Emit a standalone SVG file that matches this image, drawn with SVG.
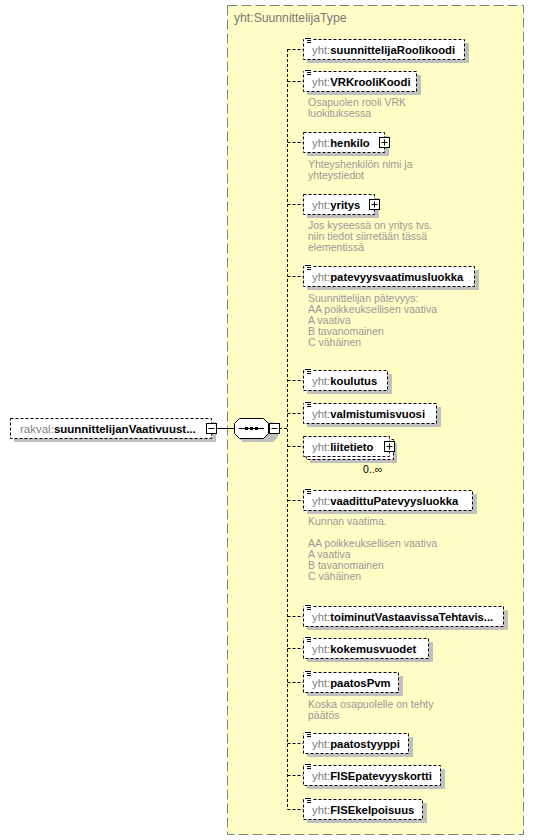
<svg xmlns="http://www.w3.org/2000/svg" width="533" height="840" viewBox="0 0 533 840">
<defs>
<style>
text{font-family:"Liberation Sans",Arial,sans-serif;font-size:11.3px}
.bg{fill:#ffffff}
.tbox{fill:#FFFDC6;stroke:#808080;stroke-width:1;stroke-dasharray:10,4}
.ttl{fill:#777777;font-size:12.2px}
.box{fill:#ffffff;stroke:#000000;stroke-width:1;stroke-dasharray:3,2}
.sh{fill:#c0c0c0}
.pfx{fill:#808080}
.nm{fill:#000000;font-weight:bold}
.desc{fill:#999999;font-size:10.5px}
.con{fill:none;stroke:#000000;stroke-width:1;stroke-dasharray:3,2}
.solid{fill:none;stroke:#000000;stroke-width:1}
.btn{fill:#ffffff;stroke:#000000;stroke-width:1}
.ic{stroke:#000000;stroke-width:1;fill:none}
.occ{fill:#000000;font-size:10.5px}
</style>
</defs>
<rect class="bg" x="0" y="0" width="533" height="840"/>
<g id="type-box">
<rect class="tbox" x="227.5" y="5.5" width="296" height="829"/>
<text class="ttl" x="234" y="22">yht:SuunnittelijaType</text>
</g>
<g id="connectors">
<line class="solid" x1="216" y1="428.5" x2="234" y2="428.5"/>
<line class="con" x1="279" y1="428.5" x2="287.5" y2="428.5"/>
<line class="con" x1="287.5" y1="49" x2="287.5" y2="809.5"/>
<line class="con" x1="287.5" y1="49.5" x2="303" y2="49.5"/>
<line class="con" x1="287.5" y1="81.5" x2="303" y2="81.5"/>
<line class="con" x1="287.5" y1="142.5" x2="303" y2="142.5"/>
<line class="con" x1="287.5" y1="204.5" x2="303" y2="204.5"/>
<line class="con" x1="287.5" y1="276.5" x2="303" y2="276.5"/>
<line class="con" x1="287.5" y1="380.5" x2="303" y2="380.5"/>
<line class="con" x1="287.5" y1="413.5" x2="303" y2="413.5"/>
<line class="con" x1="287.5" y1="446.5" x2="303" y2="446.5"/>
<line class="con" x1="287.5" y1="500.5" x2="303" y2="500.5"/>
<line class="con" x1="287.5" y1="616.5" x2="303" y2="616.5"/>
<line class="con" x1="287.5" y1="648.5" x2="303" y2="648.5"/>
<line class="con" x1="287.5" y1="682.5" x2="303" y2="682.5"/>
<line class="con" x1="287.5" y1="743.5" x2="303" y2="743.5"/>
<line class="con" x1="287.5" y1="775.5" x2="303" y2="775.5"/>
<line class="con" x1="287.5" y1="809.5" x2="303" y2="809.5"/>
</g>
<g id="root-element">
<rect class="sh" x="14" y="422" width="202" height="20"/>
<rect class="box" x="10.5" y="418.5" width="201" height="20"/>
<text x="20" y="432.5" style="font-size:11.5px"><tspan class="pfx">rakval:</tspan><tspan class="nm">suunnittelijanVaativuust...</tspan></text>
<rect class="btn" x="206.5" y="423.5" width="10" height="10"/>
<line class="solid" x1="208.5" y1="428.5" x2="214.5" y2="428.5"/>
</g>
<g id="sequence">
<polygon class="sh" points="243,422 273,422 278,427 278,437 273,442 243,442 238,437 238,427"/>
<polygon class="btn" points="239.5,418.5 263.5,418.5 268.5,423.5 268.5,433.5 263.5,438.5 239.5,438.5 234.5,433.5 234.5,423.5"/>
<line class="solid" x1="239" y1="428.5" x2="264" y2="428.5"/>
<rect x="245" y="427" width="3" height="3" fill="#000"/>
<rect x="250" y="427" width="3" height="3" fill="#000"/>
<rect x="255" y="427" width="3" height="3" fill="#000"/>
<rect class="btn" x="269.5" y="423.5" width="10" height="10"/>
<line class="solid" x1="271.5" y1="428.5" x2="277.5" y2="428.5"/>
</g>
<g id="suunnittelijaRoolikoodi">
<rect class="sh" x="307" y="43" width="162" height="20"/>
<rect class="box" x="303.5" y="39.5" width="161" height="20"/>
<rect class="bg" x="304" y="37" width="8" height="7"/>
<path class="ic" d="M305,38.5h6M307,40.5h4M307,42.5h4"/>
<text x="312" y="53.5"><tspan class="pfx">yht:</tspan><tspan class="nm">suunnittelijaRoolikoodi</tspan></text>
</g>
<g id="VRKrooliKoodi">
<rect class="sh" x="307" y="75" width="114" height="20"/>
<rect class="box" x="303.5" y="71.5" width="113" height="20"/>
<rect class="bg" x="304" y="69" width="8" height="7"/>
<path class="ic" d="M305,70.5h6M307,72.5h4M307,74.5h4"/>
<text x="312" y="85.5"><tspan class="pfx">yht:</tspan><tspan class="nm">VRKrooliKoodi</tspan></text>
<text class="desc" x="308" y="106">Osapuolen rooli VRK</text>
<text class="desc" x="308" y="117">luokituksessa</text>
</g>
<g id="henkilo">
<rect class="sh" x="307" y="136" width="82" height="20"/>
<rect class="box" x="303.5" y="132.5" width="81" height="20"/>
<text x="312" y="146.5"><tspan class="pfx">yht:</tspan><tspan class="nm">henkilo</tspan></text>
<rect class="btn" x="379.5" y="137.5" width="10" height="10"/>
<path class="solid" d="M381.5,142.5h6M384.5,139.5v6"/>
<text class="desc" x="308" y="168">Yhteyshenkilön nimi ja</text>
<text class="desc" x="308" y="179">yhteystiedot</text>
</g>
<g id="yritys">
<rect class="sh" x="307" y="198" width="72" height="20"/>
<rect class="box" x="303.5" y="194.5" width="71" height="20"/>
<text x="312" y="208.5"><tspan class="pfx">yht:</tspan><tspan class="nm">yritys</tspan></text>
<rect class="btn" x="369.5" y="199.5" width="10" height="10"/>
<path class="solid" d="M371.5,204.5h6M374.5,201.5v6"/>
<text class="desc" x="308" y="229">Jos kyseessä on yritys tvs.</text>
<text class="desc" x="308" y="240">niin tiedot siirretään tässä</text>
<text class="desc" x="308" y="251">elementissä</text>
</g>
<g id="patevyysvaatimusluokka">
<rect class="sh" x="307" y="270" width="172" height="20"/>
<rect class="box" x="303.5" y="266.5" width="171" height="20"/>
<rect class="bg" x="304" y="264" width="8" height="7"/>
<path class="ic" d="M305,265.5h6M307,267.5h4M307,269.5h4"/>
<text x="312" y="280.5"><tspan class="pfx">yht:</tspan><tspan class="nm">patevyysvaatimusluokka</tspan></text>
<text class="desc" x="308" y="302">Suunnittelijan pätevyys:</text>
<text class="desc" x="308" y="313">AA poikkeuksellisen vaativa</text>
<text class="desc" x="308" y="324">A vaativa</text>
<text class="desc" x="308" y="335">B tavanomainen</text>
<text class="desc" x="308" y="346">C vähäinen</text>
</g>
<g id="koulutus">
<rect class="sh" x="307" y="374" width="85" height="20"/>
<rect class="box" x="303.5" y="370.5" width="84" height="20"/>
<rect class="bg" x="304" y="368" width="8" height="7"/>
<path class="ic" d="M305,369.5h6M307,371.5h4M307,373.5h4"/>
<text x="312" y="384.5"><tspan class="pfx">yht:</tspan><tspan class="nm">koulutus</tspan></text>
</g>
<g id="valmistumisvuosi">
<rect class="sh" x="307" y="407" width="134" height="20"/>
<rect class="box" x="303.5" y="403.5" width="133" height="20"/>
<rect class="bg" x="304" y="401" width="8" height="7"/>
<path class="ic" d="M305,402.5h6M307,404.5h4M307,406.5h4"/>
<text x="312" y="417.5"><tspan class="pfx">yht:</tspan><tspan class="nm">valmistumisvuosi</tspan></text>
</g>
<g id="liitetieto">
<rect class="sh" x="310" y="443" width="87" height="20"/>
<rect class="box" x="306.5" y="439.5" width="87" height="20"/>
<rect class="box" x="303.5" y="436.5" width="86" height="20"/>
<text x="312" y="450.5"><tspan class="pfx">yht:</tspan><tspan class="nm">liitetieto</tspan></text>
<rect class="btn" x="384.5" y="441.5" width="10" height="10"/>
<path class="solid" d="M386.5,446.5h6M389.5,443.5v6"/>
<text class="occ" x="363" y="473">0..∞</text>
</g>
<g id="vaadittuPatevyysluokka">
<rect class="sh" x="307" y="494" width="170" height="20"/>
<rect class="box" x="303.5" y="490.5" width="169" height="20"/>
<rect class="bg" x="304" y="488" width="8" height="7"/>
<path class="ic" d="M305,489.5h6M307,491.5h4M307,493.5h4"/>
<text x="312" y="504.5"><tspan class="pfx">yht:</tspan><tspan class="nm">vaadittuPatevyysluokka</tspan></text>
<text class="desc" x="308" y="525">Kunnan vaatima.</text>
<text class="desc" x="308" y="547">AA poikkeuksellisen vaativa</text>
<text class="desc" x="308" y="558">A vaativa</text>
<text class="desc" x="308" y="569">B tavanomainen</text>
<text class="desc" x="308" y="580">C vähäinen</text>
</g>
<g id="toiminutVastaavissaTehtavis">
<rect class="sh" x="307" y="610" width="201" height="20"/>
<rect class="box" x="303.5" y="606.5" width="200" height="20"/>
<rect class="bg" x="304" y="604" width="8" height="7"/>
<path class="ic" d="M305,605.5h6M307,607.5h4M307,609.5h4"/>
<text x="312" y="620.5"><tspan class="pfx">yht:</tspan><tspan class="nm">toiminutVastaavissaTehtavis...</tspan></text>
</g>
<g id="kokemusvuodet">
<rect class="sh" x="307" y="642" width="126" height="20"/>
<rect class="box" x="303.5" y="638.5" width="125" height="20"/>
<rect class="bg" x="304" y="636" width="8" height="7"/>
<path class="ic" d="M305,637.5h6M307,639.5h4M307,641.5h4"/>
<text x="312" y="652.5"><tspan class="pfx">yht:</tspan><tspan class="nm">kokemusvuodet</tspan></text>
</g>
<g id="paatosPvm">
<rect class="sh" x="307" y="676" width="96" height="20"/>
<rect class="box" x="303.5" y="672.5" width="95" height="20"/>
<rect class="bg" x="304" y="670" width="8" height="7"/>
<path class="ic" d="M305,671.5h6M307,673.5h4M307,675.5h4"/>
<text x="312" y="686.5"><tspan class="pfx">yht:</tspan><tspan class="nm">paatosPvm</tspan></text>
<text class="desc" x="308" y="708">Koska osapuolelle on tehty</text>
<text class="desc" x="308" y="719">päätös</text>
</g>
<g id="paatostyyppi">
<rect class="sh" x="307" y="737" width="106" height="20"/>
<rect class="box" x="303.5" y="733.5" width="105" height="20"/>
<rect class="bg" x="304" y="731" width="8" height="7"/>
<path class="ic" d="M305,732.5h6M307,734.5h4M307,736.5h4"/>
<text x="312" y="747.5"><tspan class="pfx">yht:</tspan><tspan class="nm">paatostyyppi</tspan></text>
</g>
<g id="FISEpatevyyskortti">
<rect class="sh" x="307" y="769" width="138" height="20"/>
<rect class="box" x="303.5" y="765.5" width="137" height="20"/>
<rect class="bg" x="304" y="763" width="8" height="7"/>
<path class="ic" d="M305,764.5h6M307,766.5h4M307,768.5h4"/>
<text x="312" y="779.5"><tspan class="pfx">yht:</tspan><tspan class="nm">FISEpatevyyskortti</tspan></text>
</g>
<g id="FISEkelpoisuus">
<rect class="sh" x="307" y="803" width="120" height="20"/>
<rect class="box" x="303.5" y="799.5" width="119" height="20"/>
<rect class="bg" x="304" y="797" width="8" height="7"/>
<path class="ic" d="M305,798.5h6M307,800.5h4M307,802.5h4"/>
<text x="312" y="813.5"><tspan class="pfx">yht:</tspan><tspan class="nm">FISEkelpoisuus</tspan></text>
</g>
</svg>
